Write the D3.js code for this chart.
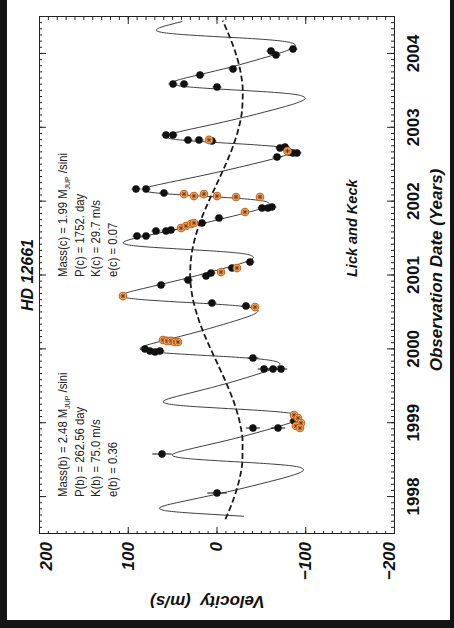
<!DOCTYPE html>
<html>
<head>
<meta charset="utf-8">
<script src="https://cdn.jsdelivr.net/npm/d3@7"></script>
<style>
  body { margin: 0; background: #fff; }
  svg { display: block; }
  text { font-family: "Liberation Sans", Arial, Helvetica, sans-serif; }
</style>
</head>
<body>
<script>
// values (years, m/s)
const yearTicks = [1998, 1999, 2000, 2001, 2002, 2003, 2004];
const velTicks = [-200, -100, 0, 100, 200];

// two-planet fit (solid line)
const fitYear = [1997.740,
  1997.766, 1997.792, 1997.819, 1997.850, 1997.885, 1997.925, 1997.970, 1998.019, 1998.071, 1998.125, 1998.180, 1998.232, 1998.281, 1998.326, 1998.366, 1998.401, 1998.432, 1998.459,
  1998.485, 1998.511, 1998.538, 1998.569, 1998.604, 1998.644, 1998.689, 1998.738, 1998.790, 1998.844, 1998.899, 1998.951, 1999.000, 1999.045, 1999.085, 1999.120, 1999.151, 1999.178,
  1999.204, 1999.230, 1999.257, 1999.288, 1999.323, 1999.363, 1999.408, 1999.457, 1999.509, 1999.563, 1999.618, 1999.670, 1999.719, 1999.764, 1999.804, 1999.839, 1999.870, 1999.897,
  1999.923, 1999.949, 1999.976, 2000.007, 2000.042, 2000.082, 2000.127, 2000.176, 2000.228, 2000.282, 2000.337, 2000.389, 2000.438, 2000.483, 2000.523, 2000.558, 2000.589, 2000.616,
  2000.642, 2000.668, 2000.695, 2000.726, 2000.761, 2000.801, 2000.846, 2000.895, 2000.947, 2001.001, 2001.056, 2001.108, 2001.157, 2001.202, 2001.242, 2001.277, 2001.308, 2001.335,
  2001.361, 2001.387, 2001.414, 2001.445, 2001.480, 2001.520, 2001.565, 2001.614, 2001.666, 2001.720, 2001.775, 2001.827, 2001.876, 2001.921, 2001.961, 2001.996, 2002.027, 2002.054,
  2002.080, 2002.106, 2002.133, 2002.164, 2002.199, 2002.239, 2002.284, 2002.333, 2002.385, 2002.439, 2002.494, 2002.546, 2002.595, 2002.640, 2002.680, 2002.715, 2002.746, 2002.773,
  2002.799, 2002.825, 2002.852, 2002.883, 2002.918, 2002.958, 2003.003, 2003.052, 2003.104, 2003.158, 2003.213, 2003.265, 2003.314, 2003.359, 2003.399, 2003.434, 2003.465, 2003.492,
  2003.518, 2003.544, 2003.571, 2003.602, 2003.637, 2003.677, 2003.722, 2003.771, 2003.823, 2003.877, 2003.932, 2003.984, 2004.033, 2004.078, 2004.118, 2004.153, 2004.184, 2004.211,
  2004.236, 2004.262, 2004.289, 2004.320, 2004.355, 2004.395, 2004.440];
const fitVel = [-31.0,
  5.3, 38.4, 58.8, 64.4, 58.0, 44.3, 26.7, 7.4, -12.3, -31.6, -50.1, -67.1, -81.9, -93.0, -98.2, -94.2, -77.8, -48.4,
  -11.4, 22.4, 43.6, 50.1, 44.8, 32.3, 16.2, -1.5, -19.4, -36.9, -53.6, -68.7, -81.8, -91.2, -95.0, -89.8, -72.4, -42.0,
  -4.2, 30.5, 52.7, 60.2, 56.0, 44.8, 30.0, 13.8, -2.7, -18.7, -34.0, -47.9, -59.9, -68.5, -71.5, -65.8, -47.9, -17.1,
  21.1, 56.1, 78.6, 86.3, 82.5, 71.4, 56.9, 40.7, 24.3, 8.1, -7.5, -21.8, -34.3, -43.4, -47.0, -41.8, -24.4, 5.8,
  43.6, 78.0, 99.9, 107.0, 102.3, 90.3, 74.6, 57.1, 39.2, 21.4, 4.1, -11.9, -26.1, -36.7, -41.7, -37.7, -21.4, 7.9,
  44.7, 78.3, 99.2, 105.2, 99.3, 85.9, 68.6, 49.4, 29.8, 10.2, -8.8, -26.4, -42.0, -53.9, -59.9, -56.8, -41.2, -12.6,
  23.7, 56.7, 77.0, 82.4, 75.9, 61.8, 43.9, 24.1, 3.9, -16.2, -35.5, -53.3, -68.9, -80.7, -86.7, -83.4, -67.6, -38.7,
  -2.3, 31.0, 51.6, 57.4, 51.3, 37.9, 20.7, 1.8, -17.4, -36.1, -54.1, -70.5, -84.7, -95.3, -100.0, -95.6, -78.9, -49.1,
  -11.8, 22.3, 43.9, 50.7, 45.8, 33.8, 18.2, 1.0, -16.3, -33.1, -49.2, -63.8, -76.4, -85.5, -88.9, -83.4, -65.7, -35.1,
  3.0, 37.8, 60.2, 67.9, 64.0, 52.9, 38.4];

// outer planet alone (dashed line)
const dashYear = [1997.70, 1998.00, 1998.25, 1998.50, 1998.75, 1999.00, 1999.25, 1999.50, 1999.75, 2000.00, 2000.25, 2000.50, 2000.75, 2001.00,
  2001.25, 2001.50, 2001.75, 2002.00, 2002.25, 2002.50, 2002.75, 2003.00, 2003.25, 2003.50, 2003.75, 2004.00, 2004.25, 2004.45];
const dashVel = [-10.1, -20.0, -26.0, -29.2, -29.4, -26.4, -20.6, -12.6, -3.3, 6.4, 15.4, 22.7, 27.7, 29.7,
  28.5, 24.3, 17.6, 8.9, -0.7, -10.2, -18.6, -25.1, -28.9, -29.6, -27.2, -21.9, -14.2, -7.0];

// Lick observations (black)
const lickYear = [1998.055, 1998.583, 1998.935, 1998.935, 1999.030, 1999.003, 1999.734, 1999.734, 1999.734, 1999.883,
  2000.005, 1999.978, 1999.964, 1999.978, 2000.628, 2000.587, 2000.871, 2000.939, 2000.993, 2001.034,
  2001.101, 2001.183, 2001.535, 2001.535, 2001.602, 2001.602, 2001.616, 2001.711, 2001.778, 2001.914,
  2001.914, 2001.927, 2002.171, 2002.171, 2002.117, 2002.902, 2002.902, 2002.835, 2002.835, 2002.821,
  2002.726, 2002.740, 2002.672, 2002.659, 2002.659, 2002.604, 2003.593, 2003.593, 2003.714, 2003.552,
  2003.796, 2004.039, 2003.985, 2004.066];
const lickVel = [-0.6, 61.4, -41.1, -69.3, -87.3, -91.8, -53.5, -63.7, -72.7, -41.1,
  80.6, 75.0, 69.3, 63.7, 5.1, -33.2, 62.5, 32.1, 11.8, 6.2,
  -17.5, -37.7, 89.6, 79.4, 68.2, 56.9, 51.3, 16.3, -2.8, -51.3,
  -58.0, -62.5, 90.7, 79.4, 59.2, 56.9, 49.0, 32.1, 19.7, 5.1,
  -71.5, -77.2, -81.7, -86.2, -90.7, -68.2, 49.0, 36.6, 18.6, -0.6,
  -18.6, -61.4, -67.0, -86.2];
const lickErr = [11, 11, 8, 8, 5, 5, 7, 7, 7, 6,
  5, 5, 5, 5, 5, 5, 5, 5, 5, 5,
  5, 5, 5, 5, 5, 5, 5, 5, 5, 5,
  5, 5, 5, 5, 5, 5, 5, 5, 5, 5,
  5, 5, 5, 5, 5, 5, 5, 5, 5, 5,
  5, 5, 5, 5];

// Keck observations (orange)
const keckYear = [1999.111, 1999.070, 1999.003, 1998.962, 1998.935, 2000.127, 2000.114, 2000.114, 2000.100, 2000.100,
  2000.722, 2000.573, 2001.047, 2001.101, 2001.643, 2001.670, 2001.697, 2001.711, 2001.860, 2002.103,
  2002.076, 2002.103, 2002.076, 2002.063, 2002.063, 2002.835, 2002.686];
const keckVel = [-87.3, -91.8, -95.2, -89.6, -94.1, 60.3, 55.8, 51.3, 46.8, 43.4,
  105.4, -43.4, -5.1, -23.1, 40.0, 34.4, 28.7, 25.4, -32.1, 36.6,
  25.4, 14.1, -0.6, -22.0, -49.0, 8.5, -80.0];

const planetB = ['Mass(b) = 2.48 M', 'P(b) = 262.56 day', 'K(b) = 75.0 m/s', 'e(b) = 0.36'];
const planetC = ['Mass(c) = 1.99 M', 'P(c) = 1752. day', 'K(c) = 29.7 m/s', 'e(c) = 0.07'];

const width = 454, height = 628;
const plotW = 517, plotH = 355;

const svg = d3.select('body').append('svg')
  .attr('width', width)
  .attr('height', height);

svg.append('rect').attr('width', width).attr('height', height).attr('fill', '#141414');
svg.append('rect').attr('x', 7).attr('y', 0).attr('width', 443).attr('height', 620).attr('fill', '#fff');

// the whole plot is drawn upright and then turned a quarter turn
const g = svg.append('g').attr('transform', 'translate(39,534) rotate(-90)');

const x = d3.scaleLinear().domain([1997.5, 2004.5]).range([0, plotW]);
const y = d3.scaleLinear().domain([-200, 200]).range([plotH, 0]);

const monthTicks = d3.range(0, 85).map(i => 1997.5 + i / 12);
const velMinor = d3.range(-200, 201, 10);

function styleAxis(sel) {
  sel.selectAll('.domain').attr('stroke', '#222').attr('stroke-width', 1);
  sel.selectAll('.tick line').attr('stroke', '#222');
}

// minor ticks, all four sides
g.append('g').attr('transform', `translate(0,${plotH})`)
  .call(d3.axisBottom(x).tickValues(monthTicks).tickSize(-3).tickSizeOuter(0).tickFormat(''))
  .call(styleAxis);
g.append('g')
  .call(d3.axisTop(x).tickValues(monthTicks).tickSize(-3).tickSizeOuter(0).tickFormat(''))
  .call(styleAxis);
g.append('g')
  .call(d3.axisLeft(y).tickValues(velMinor).tickSize(-3).tickSizeOuter(0).tickFormat(''))
  .call(styleAxis);
g.append('g').attr('transform', `translate(${plotW},0)`)
  .call(d3.axisRight(y).tickValues(velMinor).tickSize(-3).tickSizeOuter(0).tickFormat(''))
  .call(styleAxis);

// major ticks with labels
const yearAxis = g.append('g').attr('transform', `translate(0,${plotH})`)
  .call(d3.axisBottom(x).tickValues(yearTicks).tickSize(-7).tickPadding(13).tickSizeOuter(0).tickFormat(d3.format('d')))
  .call(styleAxis);
g.append('g')
  .call(d3.axisTop(x).tickValues(yearTicks).tickSize(-7).tickSizeOuter(0).tickFormat(''))
  .call(styleAxis);
const velAxis = g.append('g')
  .call(d3.axisLeft(y).tickValues(velTicks).tickSize(-7).tickPadding(8).tickSizeOuter(0)
    .tickFormat(d => d < 0 ? '\u2212' + Math.abs(d) : d))
  .call(styleAxis);
g.append('g').attr('transform', `translate(${plotW},0)`)
  .call(d3.axisRight(y).tickValues(velTicks).tickSize(-7).tickSizeOuter(0).tickFormat(''))
  .call(styleAxis);

yearAxis.selectAll('text')
  .attr('fill', '#111').attr('font-size', 17).attr('font-weight', 'bold');
velAxis.selectAll('text')
  .attr('fill', '#111').attr('font-size', 17).attr('font-weight', 'bold').attr('font-style', 'italic')
  .attr('y', d => d === 200 ? 7 : d === -200 ? -5 : 0);

// fit curves
const line = d3.line().x(d => x(d[0])).y(d => y(d[1])).curve(d3.curveMonotoneX);

g.append('path')
  .attr('d', line(d3.zip(fitYear, fitVel)))
  .attr('fill', 'none').attr('stroke', '#404040').attr('stroke-width', 1);

g.append('path')
  .attr('d', line(d3.zip(dashYear, dashVel)))
  .attr('fill', 'none').attr('stroke', '#1a1a1a').attr('stroke-width', 1.8)
  .attr('stroke-dasharray', '6,3');

// Lick points with error bars
const lick = d3.zip(lickYear, lickVel, lickErr);
g.append('g').selectAll('line').data(lick).join('line')
  .attr('x1', d => x(d[0])).attr('x2', d => x(d[0]))
  .attr('y1', d => y(d[1] - d[2])).attr('y2', d => y(d[1] + d[2]))
  .attr('stroke', '#111').attr('stroke-width', 1);
g.append('g').selectAll('circle').data(lick).join('circle')
  .attr('cx', d => x(d[0])).attr('cy', d => y(d[1]))
  .attr('r', 3.7).attr('fill', '#111');

// Keck points
const keck = g.append('g').selectAll('g').data(d3.zip(keckYear, keckVel)).join('g')
  .attr('transform', d => `translate(${x(d[0])},${y(d[1])})`);
keck.append('circle').attr('r', 3.8)
  .attr('fill', '#f0a868').attr('stroke', '#c8661c').attr('stroke-width', 1.1);
keck.append('path')
  .attr('d', 'M-2.4,0H2.4M0,-2.4V2.4M-1.7,-1.7L1.7,1.7M-1.7,1.7L1.7,-1.7')
  .attr('stroke', '#74390f').attr('stroke-width', 0.9);

// text
g.append('text')
  .attr('x', 259).attr('y', -6).attr('text-anchor', 'middle')
  .attr('font-size', 16).attr('font-weight', 'bold').attr('font-style', 'italic')
  .attr('fill', '#111').text('HD 12661');

g.append('text')
  .attr('x', 264).attr('y', 403).attr('text-anchor', 'middle')
  .attr('font-size', 17).attr('font-weight', 'bold').attr('font-style', 'italic')
  .attr('fill', '#111').text('Observation Date (Years)');

g.append('text')
  .attr('transform', `translate(-62,${168.5}) rotate(-90)`)
  .attr('text-anchor', 'middle')
  .attr('font-size', 17).attr('font-weight', 'bold').attr('font-style', 'italic')
  .attr('fill', '#111').style('white-space', 'pre').text('Velocity  (m/s)');

g.append('text')
  .attr('x', 257).attr('y', 318)
  .attr('font-size', 14.5).attr('font-weight', 'bold').attr('font-style', 'italic')
  .attr('fill', '#111').text('Lick and Keck');

function infoBlock(lines, u) {
  const rows = [28, 44.5, 61, 78];
  lines.forEach((s, i) => {
    const t = g.append('text')
      .attr('transform', `translate(${u},${rows[i]}) scale(0.87,1)`)
      .attr('font-size', 13).attr('fill', '#222');
    t.append('tspan').text(s);
    if (i === 0) {
      t.append('tspan').attr('font-size', 8).attr('dy', 3).text('JUP');
      t.append('tspan').attr('dy', -3).text(' /sini');
    }
  });
}
infoBlock(planetB, 37);
infoBlock(planetC, 257);
</script>
</body>
</html>
